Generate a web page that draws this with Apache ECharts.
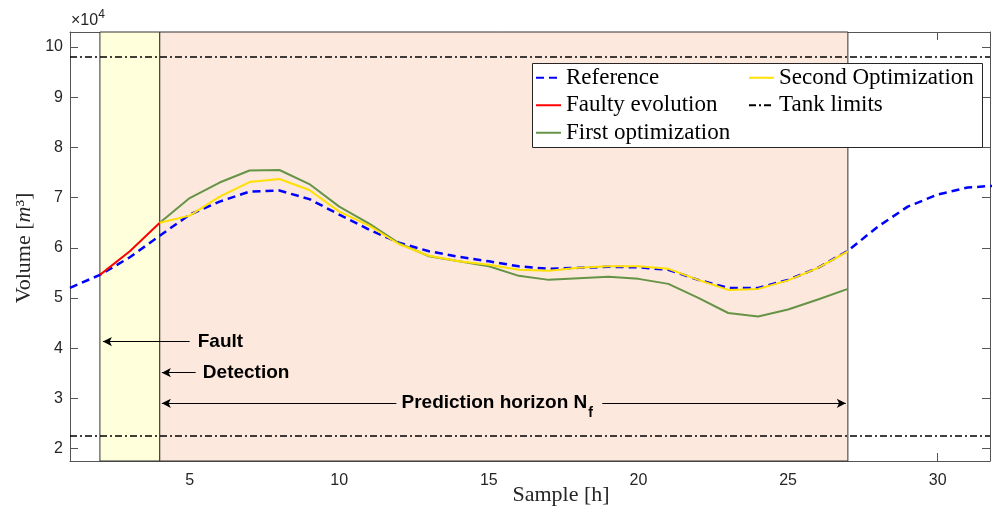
<!DOCTYPE html>
<html><head><meta charset="utf-8">
<script src="https://cdn.jsdelivr.net/npm/echarts@6/dist/echarts.min.js"></script>
<style>html,body{margin:0;padding:0;background:#fff}#c{width:992px;height:507px}</style>
</head><body><div id="c"></div>
<script>
// ---- data (volume in units of 10^4 m^3) ----
const samples = [1,2,3,4,5,6,7,8,9,10,11,12,13,14,15,16,17,18,19,20,21,22,23,24,25,26,27,28,29,30,31,32];
const reference = [5.20,5.46,5.81,6.24,6.66,6.92,7.12,7.14,6.97,6.66,6.36,6.10,5.93,5.82,5.73,5.63,5.58,5.60,5.62,5.61,5.56,5.36,5.20,5.20,5.36,5.60,5.94,6.42,6.82,7.06,7.20,7.24];
const faultySamples = [2,3,4];
const faultyEvolution = [5.46,5.93,6.50];
const optSamples = [4,5,6,7,8,9,10,11,12,13,14,15,16,17,18,19,20,21,22,23,24,25,26,27];
const firstOptimization = [6.50,6.99,7.30,7.54,7.55,7.27,6.82,6.48,6.09,5.83,5.73,5.63,5.44,5.36,5.39,5.42,5.38,5.28,5.00,4.70,4.63,4.77,4.97,5.18];
const secondOptimization = [6.50,6.64,7.02,7.31,7.37,7.15,6.72,6.44,6.07,5.84,5.73,5.66,5.56,5.54,5.60,5.63,5.63,5.58,5.36,5.16,5.18,5.35,5.60,5.93];
const tankLimits = [9.8, 2.25];
const xTicks = [5,10,15,20,25,30];
const yTicks = [2,3,4,5,6,7,8,9,10];
const faultSample = 2, detectionSample = 4, horizonEnd = 27;
const xRange = [1, 31.75], yRange = [1.75, 10.3];

const pairs = (xs, ys) => xs.map((x, i) => [x, ys[i]]);

const chart = echarts.init(document.getElementById('c'), null, {renderer: 'canvas'});
const axisCol = '#555';
const tickFont = 'Liberation Sans';
const serif = 'Liberation Serif';

function xAxisDef(pos, labels) {
  return {
    type: 'value', min: xRange[0], max: xRange[1], position: pos,
    axisLine: {show: true, onZero: false, lineStyle: {color: axisCol, width: 1}},
    axisTick: {show: true, inside: true, length: 8, customValues: xTicks, lineStyle: {color: axisCol}},
    axisLabel: {show: labels, customValues: xTicks, color: '#262626', fontSize: 16, fontFamily: tickFont, margin: 12},
    splitLine: {show: false}
  };
}
function yAxisDef(pos, labels) {
  return {
    type: 'value', min: yRange[0], max: yRange[1], position: pos,
    axisLine: {show: true, onZero: false, lineStyle: {color: axisCol, width: 1}},
    axisTick: {show: true, inside: true, length: 8, customValues: yTicks, lineStyle: {color: axisCol}},
    axisLabel: {show: labels, customValues: yTicks, color: '#262626', fontSize: 16, fontFamily: tickFont, margin: 7},
    splitLine: {show: false}
  };
}

const arrowY = {fault: 4.13, detection: 3.51, horizon: 2.90};
const arrowStyle = {color: '#000', width: 1.2, type: 'solid'};

const option = {
  animation: false,
  backgroundColor: '#fff',
  grid: {left: 70, right: 2, top: 32, bottom: 46, containLabel: false},
  xAxis: [xAxisDef('bottom', true), xAxisDef('top', false)],
  yAxis: [yAxisDef('left', true), yAxisDef('right', false)],
  legend: {
    data: ['Reference', 'Second Optimization', 'Faulty evolution', 'Tank limits', 'First optimization'],
    left: 535, top: 64, width: 470, orient: 'horizontal',
    padding: 0, z: 6,
    itemGap: 0, itemWidth: 25, itemHeight: 14,
    selectedMode: false,
    itemStyle: {opacity: 0, color: 'transparent', borderWidth: 0},
    textStyle: {fontFamily: serif, fontSize: 23, color: '#000', width: 182, lineHeight: 27.5, overflow: 'none'}
  },
  series: [
    {
      name: 'regions', type: 'line', data: [], z: 1, silent: true,
      markArea: {
        silent: true,
        data: [
          [{xAxis: faultSample, itemStyle: {color: '#FFFFDB', borderColor: '#333', borderWidth: 1}}, {xAxis: detectionSample}],
          [{xAxis: detectionSample, itemStyle: {color: '#FDE8DD', borderColor: '#333', borderWidth: 1}}, {xAxis: horizonEnd}]
        ]
      }
    },
    {
      name: 'Reference', type: 'line', data: pairs(samples, reference), symbol: 'none', z: 3,
      lineStyle: {color: '#0000FF', width: 2.5, type: [8, 5]}, itemStyle: {color: '#0000FF'}
    },
    {
      name: 'Faulty evolution', type: 'line', data: pairs(faultySamples, faultyEvolution), symbol: 'none', z: 3,
      lineStyle: {color: '#FF0000', width: 2}, itemStyle: {color: '#FF0000'}
    },
    {
      name: 'First optimization', type: 'line', data: pairs(optSamples, firstOptimization), symbol: 'none', z: 3,
      lineStyle: {color: '#659446', width: 2}, itemStyle: {color: '#659446'}
    },
    {
      name: 'Second Optimization', type: 'line', data: pairs(optSamples, secondOptimization), symbol: 'none', z: 3,
      lineStyle: {color: '#FFE000', width: 2}, itemStyle: {color: '#FFE000'}
    },
    {
      name: 'Tank limits', type: 'line', data: [[xRange[0], tankLimits[0]], [xRange[1], tankLimits[0]]], symbol: 'none', z: 4,
      lineStyle: {color: '#000', width: 1.5, type: [7, 3, 2, 3]}, itemStyle: {color: '#000'}
    },
    {
      name: 'Tank limits', type: 'line', data: [[xRange[0], tankLimits[1]], [xRange[1], tankLimits[1]]], symbol: 'none', z: 4,
      lineStyle: {color: '#000', width: 1.5, type: [7, 3, 2, 3]}, itemStyle: {color: '#000'}
    },
    {
      name: 'arrows', type: 'line', data: [], z: 5, silent: true,
      markLine: {
        silent: true, symbol: ['none', 'arrow'], symbolSize: [7, 9],
        label: {show: false}, lineStyle: arrowStyle,
        data: [
          [{coord: [5.0, arrowY.fault]}, {coord: [2.1, arrowY.fault]}],
          [{coord: [5.2, arrowY.detection]}, {coord: [4.07, arrowY.detection]}],
          [{coord: [11.91, arrowY.horizon]}, {coord: [4.07, arrowY.horizon]}],
          [{coord: [18.79, arrowY.horizon]}, {coord: [26.93, arrowY.horizon]}]
        ]
      }
    }
  ]
};
chart.setOption(option);

// annotations (positioned via the chart's own coordinate conversion)
const px = (x, y) => chart.convertToPixel({gridIndex: 0}, [x, y]);
const ctx = document.createElement('canvas').getContext('2d');
const annFont = 'bold 19px "Liberation Sans"';
ctx.font = annFont;
const horizonText = 'Prediction horizon N';
const wHor = ctx.measureText(horizonText).width;
ctx.font = '16px "Liberation Sans"';
const wX10 = ctx.measureText('×10').width;

const pF = px(5.27, arrowY.fault), pD = px(5.44, arrowY.detection), pH = px(12.08, 2.92);
const annStyle = {fontFamily: 'Liberation Sans', fontWeight: 'bold', fontSize: 19, fill: '#000', verticalAlign: 'middle', align: 'left'};
chart.setOption({
  graphic: [
    {type: 'rect', z: 5, shape: {x: 532.5, y: 63.5, width: 450, height: 84},
      style: {fill: '#fff', stroke: '#262626', lineWidth: 1}},
    {type: 'text', z: 10, x: pF[0], y: pF[1], style: Object.assign({text: 'Fault'}, annStyle)},
    {type: 'text', z: 10, x: pD[0], y: pD[1], style: Object.assign({text: 'Detection'}, annStyle)},
    {type: 'text', z: 10, x: pH[0], y: pH[1], style: Object.assign({text: horizonText}, annStyle)},
    {type: 'text', z: 10, x: pH[0] + wHor + 1, y: pH[1] + 11, style: Object.assign({}, annStyle, {text: 'f', fontSize: 14})},
    {type: 'text', z: 10, x: 71, y: 21, style: {text: '×10', fontFamily: 'Liberation Sans', fontSize: 16, fill: '#262626', verticalAlign: 'middle', align: 'left'}},
    {type: 'text', z: 10, x: 71 + wX10, y: 15, style: {text: '4', fontFamily: 'Liberation Sans', fontSize: 12, fill: '#262626', verticalAlign: 'middle', align: 'left'}},
    {type: 'text', z: 10, x: 561, y: 495, style: {text: 'Sample [h]', fontFamily: serif, fontSize: 22, fill: '#262626', verticalAlign: 'middle', align: 'center'}},
    {type: 'text', z: 10, x: 24, y: 248, rotation: Math.PI / 2,
      style: {text: 'Volume [{i|m}³]', fontFamily: serif, fontSize: 22, fill: '#262626', verticalAlign: 'middle', align: 'center',
        rich: {i: {fontFamily: serif, fontStyle: 'italic', fontSize: 22, fill: '#262626'}}}}
  ]
});
</script>
</body></html>
